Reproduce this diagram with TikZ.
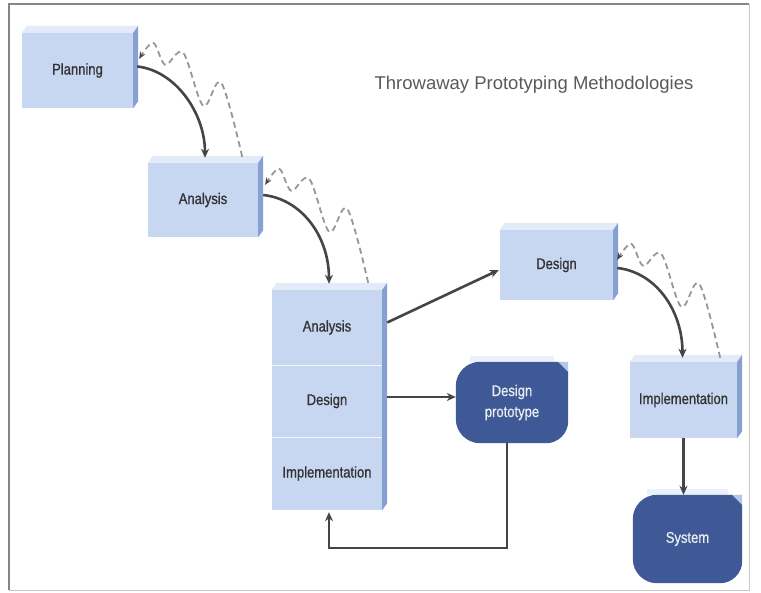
\documentclass[tikz,border=0pt]{standalone}
\usepackage{fontspec}
\setmainfont{Liberation Sans}
\newfontfamily\narrowfont[FakeStretch=0.84,FakeBold=0.9]{Liberation Sans}
\usetikzlibrary{calc,arrows.meta,backgrounds}

\definecolor{boxfront}{HTML}{C7D7F2}
\definecolor{boxtop}{HTML}{E3EBF8}
\definecolor{boxside}{HTML}{86A0D2}
\definecolor{darkbox}{HTML}{3E5995}
\definecolor{foldc}{HTML}{B4C6EA}
\definecolor{linkc}{HTML}{454545}
\definecolor{wavec}{HTML}{979797}
\definecolor{titlec}{HTML}{5A5A5A}
\definecolor{labelc}{HTML}{333333}

\tikzset{
  x=1pt, y=-1pt,
  phase/.style={rectangle, inner sep=0pt, fill=boxfront, text=labelc,
    font=\narrowfont\fontsize{15.5}{17}\selectfont},
  outcome/.style={rectangle, inner sep=0pt, text=white!88!darkbox, align=center,
    font=\narrowfont\fontsize{15.5}{21}\selectfont},
  flow/.style={draw=linkc, line width=2.6pt, -{Stealth[length=9pt,width=8pt]}},
  wave/.style={draw=wavec, line width=1.8pt, dash pattern=on 6pt off 4pt,
    -{Stealth[length=7pt,width=6pt,color=linkc]}},
}

% top and right faces of a raised box
\newcommand\boxfaces[2]{%
  \fill[boxtop] (#1.north west) -- ++(5,-7) -- ($(#1.north east)+(5,-7)$) -- (#1.north east) -- cycle;
  \fill[boxside] (#1.north east) -- ++(5,-7) -- ($(#2.south east)+(5,-7)$) -- (#2.south east) -- cycle;
}

% rounded dark body with a folded top-right corner
\newcommand\darkbody[1]{%
  \fill[boxtop!70!white] ($(#1.north west)+(14,-6)$) rectangle ($(#1.north east)+(-14,0)$);
  \fill[darkbox] ($(#1.north west)+(24,0)$) -- ($(#1.north east)+(-10,0)$)
    -- ($(#1.north east)+(0,10)$) -- ($(#1.south east)+(0,-22)$)
    .. controls +(0,12) and +(12,0) .. ($(#1.south east)+(-22,0)$)
    -- ($(#1.south west)+(24,0)$)
    .. controls +(-13,0) and +(0,13) .. ($(#1.south west)+(0,-24)$)
    -- ($(#1.north west)+(0,24)$)
    .. controls +(0,-13) and +(-13,0) .. ($(#1.north west)+(24,0)$) -- cycle;
  \fill[foldc] ($(#1.north east)+(-10,0)$) -- (#1.north east) -- ($(#1.north east)+(0,10)$) -- cycle;
}

% dashed iteration loop climbing back to the previous phase
\newcommand\iterloop[1]{%
  \begin{scope}[shift={(#1)}]
    \draw[wave] plot[smooth, tension=0.55] coordinates
      {(0,0) (-21,-74) (-39,-51) (-59,-104) (-77,-92) (-89,-114) (-103,-98)};
  \end{scope}
}

\begin{document}
\begin{tikzpicture}
\useasboundingbox (0,0) rectangle (761,593);

\node[font=\fontsize{18.5}{20}\selectfont, text=titlec] (title) at (534,85)
  {Throwaway Prototyping Methodologies};

% phases
\node[phase, minimum width=111pt, minimum height=75pt] (plan) at (77.5,70.5) {Planning};
\node[phase, minimum width=110pt, minimum height=74pt] (a1) at (203,200) {Analysis};
\node[phase, minimum width=110pt, minimum height=75pt] (cA) at (327,327.5) {Analysis};
\node[phase, minimum width=110pt, minimum height=72pt] (cD) at (327,401) {Design};
\node[phase, minimum width=110pt, minimum height=73pt] (cI) at (327,473.5) {Implementation};
\node[phase, minimum width=113pt, minimum height=70pt] (dsn) at (556.5,265) {Design};
\node[phase, minimum width=107pt, minimum height=76pt] (impl) at (683.5,400) {Implementation};

\boxfaces{plan}{plan}
\boxfaces{a1}{a1}
\boxfaces{cA}{cI}
\boxfaces{dsn}{dsn}
\boxfaces{impl}{impl}
\draw[color=white!75!boxfront, line width=1.3pt] (cA.south west) -- (cA.south east);
\draw[color=white!75!boxfront, line width=1.3pt] (cD.south west) -- (cD.south east);

% outcomes
\node[outcome, minimum width=112pt, minimum height=81pt] (proto) at (512,402.5) {Design\\prototype};
\node[outcome, minimum width=109pt, minimum height=88pt] (sys) at (687.5,539) {System};
\begin{pgfonlayer}{background}
  \fill[white] (0,0) rectangle (761,593);
  \darkbody{proto}
  \darkbody{sys}
\end{pgfonlayer}

% frame
\draw[color=black!22, line width=1pt] (749,4) -- (749,590) -- (9,590);
\draw[color=black!48, line width=1.5pt] (9,590) -- (9,4) -- (749,4);

% forward flow
\draw[flow] ($(plan.east)+(4,-4)$) .. controls +(38,4) and +(0,-45) .. ($(a1.north)+(2,-5)$);
\draw[flow] ($(a1.east)+(5,-5)$) .. controls +(38,4) and +(0,-48) .. ($(cA.north)+(2,-6)$);
\draw[flow] ($(dsn.east)+(4,3)$) .. controls +(38,4) and +(0,-48) .. ($(impl.north)+(-1,-4)$);
\draw[flow] ($(cA.east)+(5,-5)$) -- ($(dsn.west)+(-1,5)$);
\coordinate (dstart) at ($(cD.east)+(5,-4)$);
\draw[flow] (dstart) -- (dstart -| proto.west);
\coordinate (pbot) at ($(proto.south)+(-5,0)$);
\draw[flow] (pbot) -- ++(0,105) -| ($(cI.south)+(2,2)$);
\draw[flow] (impl.south) -- (impl.south |- sys.north);

% iteration loops
\coordinate (w1) at ($(a1.north east)+(-16,-6)$);
\coordinate (w2) at ($(cA.north east)+(-14,-7)$);
\coordinate (w3) at ($(impl.north east)+(-17,-4)$);
\iterloop{w1}
\iterloop{w2}
\iterloop{w3}
\end{tikzpicture}
\end{document}
